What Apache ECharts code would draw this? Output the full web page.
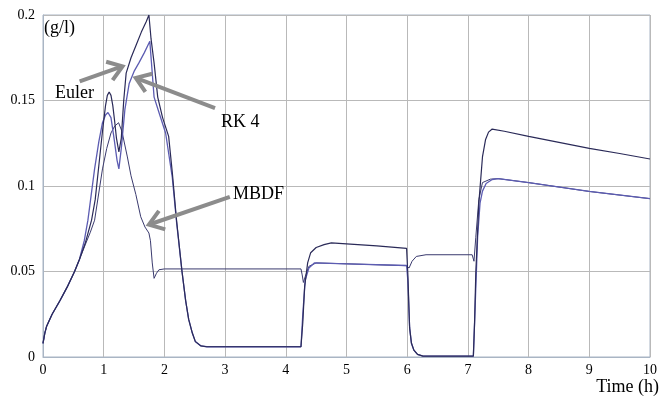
<!DOCTYPE html>
<html>
<head>
<meta charset="utf-8">
<script src="https://cdn.jsdelivr.net/npm/echarts@6/dist/echarts.min.js"></script>
<style>html,body{margin:0;padding:0;background:#fff}#c{width:660px;height:399px}</style>
</head>
<body>
<div id="c"></div>
<script>
var xTicks = [0,1,2,3,4,5,6,7,8,9,10];
var yTicks = [0,0.05,0.1,0.15,0.2];

var eulerData = [
[0,0.008],[0.03,0.014],[0.06,0.018],[0.15,0.025],[0.28,0.033],[0.4,0.041],[0.52,0.050],[0.6,0.057],
[0.7,0.067],[0.8,0.080],[0.86,0.092],[0.92,0.112],[0.98,0.132],[1.03,0.147],[1.06,0.153],[1.09,0.155],
[1.12,0.153],[1.15,0.147],[1.18,0.138],[1.21,0.128],[1.25,0.120],[1.29,0.128],[1.33,0.150],[1.37,0.166],
[1.45,0.175],[1.53,0.182],[1.62,0.190],[1.70,0.196],[1.745,0.200],[1.78,0.186],[1.83,0.172],
[1.89,0.152],[1.97,0.140],[2.07,0.129],[2.13,0.108],[2.2,0.080],[2.29,0.050],[2.35,0.033],[2.4,0.022],
[2.46,0.014],[2.51,0.009],[2.6,0.0065],[2.7,0.006],[4.25,0.006],[4.28,0.02],[4.31,0.041],[4.36,0.055],
[4.41,0.061],[4.5,0.064],[4.63,0.0657],[4.75,0.0667],[5.5,0.065],[5.99,0.0635],[6.01,0.049],
[6.04,0.017],[6.07,0.008],[6.11,0.004],[6.17,0.0015],[6.26,0.0005],[7.09,0.0005],[7.11,0.02],[7.13,0.049],
[7.18,0.09],[7.24,0.117],[7.29,0.127],[7.34,0.1315],[7.4,0.1333],[7.6,0.132],[8.0,0.129],[8.5,0.1255],
[9.0,0.122],[9.5,0.119],[10,0.1158]
];

var rk4Data = [
[0,0.008],[0.03,0.014],[0.06,0.018],[0.15,0.025],[0.28,0.033],[0.4,0.041],[0.52,0.050],[0.6,0.057],
[0.68,0.068],[0.74,0.080],[0.85,0.110],[0.92,0.126],[0.98,0.137],[1.03,0.1415],[1.07,0.143],[1.12,0.140],
[1.17,0.128],[1.22,0.115],[1.25,0.110],[1.29,0.122],[1.35,0.145],[1.42,0.160],[1.5,0.167],
[1.58,0.172],[1.67,0.178],[1.76,0.1846],[1.80,0.166],[1.83,0.152],[1.92,0.142],[2.02,0.131],
[2.13,0.105],[2.2,0.079],[2.29,0.050],[2.35,0.033],[2.4,0.022],[2.46,0.014],[2.51,0.009],[2.6,0.0065],[2.7,0.006],
[4.25,0.006],[4.28,0.025],[4.32,0.045],[4.38,0.052],[4.47,0.055],[5.0,0.0545],[5.99,0.0535],
[6.01,0.045],[6.04,0.017],[6.07,0.008],[6.11,0.004],[6.17,0.0015],[6.26,0.0005],[7.09,0.0005],[7.12,0.03],
[7.16,0.07],[7.2,0.09],[7.24,0.097],[7.3,0.1015],[7.4,0.1038],[7.5,0.1043],[8.0,0.102],[9.0,0.0968],[10,0.0926]
];

var mbdfData = [
[0,0.008],[0.03,0.014],[0.06,0.018],[0.15,0.025],[0.28,0.033],[0.4,0.041],[0.52,0.050],[0.6,0.057],
[0.7,0.066],[0.78,0.073],[0.85,0.080],[0.98,0.110],[1.05,0.122],[1.12,0.131],[1.18,0.135],
[1.245,0.137],[1.3,0.132],[1.39,0.117],[1.45,0.106],[1.53,0.095],[1.61,0.082],[1.68,0.076],
[1.745,0.0725],[1.77,0.068],[1.8,0.055],[1.83,0.046],[1.87,0.049],[1.91,0.051],[2.0,0.0515],
[4.25,0.0515],[4.27,0.048],[4.29,0.0436],[4.32,0.047],[4.38,0.053],[4.5,0.055],[5.0,0.0545],
[5.99,0.0534],[6.03,0.052],[6.08,0.056],[6.15,0.0588],[6.31,0.0598],[7.07,0.0598],[7.10,0.056],
[7.13,0.07],[7.18,0.092],[7.24,0.102],[7.37,0.104],[7.5,0.1043],[8.0,0.102],[9.0,0.0968],[10,0.0926]
];

var annotations = [
  {text:'Euler', label:[55,93], tail:[0.604,0.1612], tip:[1.31,0.170]},
  {text:'RK 4', label:[221,122], tail:[2.834,0.1456], tip:[1.529,0.1632]},
  {text:'MBDF', label:[233,194], tail:[3.078,0.0936], tip:[1.745,0.0774]}
];

var FONT = '"Liberation Serif","Times New Roman",serif';
var chart = echarts.init(document.getElementById('c'), null, {renderer:'canvas'});
var frame = '#a9b5c4';
function mk(name, data, color, w){
  return {name:name, type:'line', data:data, showSymbol:false, symbol:'none', smooth:false,
    lineStyle:{color:color, width:w}, animation:false, z: 3};
}
chart.setOption({
  backgroundColor:'#fff',
  animation:false,
  grid:{left:43, right:4, top:15, bottom:42, show:true, borderColor:frame, borderWidth:1},
  xAxis:{type:'value', min:0, max:10, interval:1,
    axisLine:{show:true, lineStyle:{color:frame, width:1}},
    axisTick:{show:false},
    splitLine:{show:true, lineStyle:{color:'#b9b9b9', width:1}},
    axisLabel:{color:'#000', fontFamily:FONT, fontSize:14, margin:6,
      formatter:function(v){ return xTicks.indexOf(v)>=0 ? String(v) : ''; }}
  },
  yAxis:{type:'value', min:0, max:0.2, interval:0.05,
    axisLine:{show:true, lineStyle:{color:frame, width:1}},
    axisTick:{show:false},
    splitLine:{show:true, lineStyle:{color:'#b9b9b9', width:1}},
    axisLabel:{color:'#000', fontFamily:FONT, fontSize:14, margin:8,
      formatter:function(v){ var r = Math.round(v*100)/100; return String(r); }}
  },
  series:[
    mk('MBDF', mbdfData, '#3a3a6e', 1),
    mk('RK 4', rk4Data, '#5c5cb2', 1.3),
    mk('Euler', eulerData, '#2a2a58', 1.2)
  ]
});

var g = [];
var gray = '#8c8c8c';
annotations.forEach(function(a){
  var t = chart.convertToPixel({gridIndex:0}, a.tail);
  var p = chart.convertToPixel({gridIndex:0}, a.tip);
  var dx = t[0]-p[0], dy = t[1]-p[1], L = Math.sqrt(dx*dx+dy*dy);
  var ux = dx/L, uy = dy/L, ang = 35*Math.PI/180, hl = 17;
  function rot(a){ return [ux*Math.cos(a)-uy*Math.sin(a), ux*Math.sin(a)+uy*Math.cos(a)]; }
  var r1 = rot(ang), r2 = rot(-ang);
  g.push({type:'line', shape:{x1:t[0], y1:t[1], x2:p[0]+ux*2, y2:p[1]+uy*2},
    style:{stroke:gray, lineWidth:4}, z:10});
  g.push({type:'polyline', shape:{points:[[p[0]+r1[0]*hl, p[1]+r1[1]*hl],[p[0],p[1]],[p[0]+r2[0]*hl, p[1]+r2[1]*hl]]},
    style:{stroke:gray, lineWidth:4, fill:null, lineJoin:'miter'}, z:10});
  g.push({type:'text', x:a.label[0], y:a.label[1], style:{text:a.text, fill:'#000', font:'18px '+FONT, textVerticalAlign:'middle', textAlign:'left'}, z:11});
});
g.push({type:'text', x:44, y:28, style:{text:'(g/l)', fill:'#000', font:'18px '+FONT, textVerticalAlign:'middle'}, z:11});
g.push({type:'text', x:659, y:387, style:{text:'Time (h)', fill:'#000', font:'18px '+FONT, textVerticalAlign:'middle', textAlign:'right'}, z:11});
chart.setOption({graphic:g});
</script>
</body>
</html>
